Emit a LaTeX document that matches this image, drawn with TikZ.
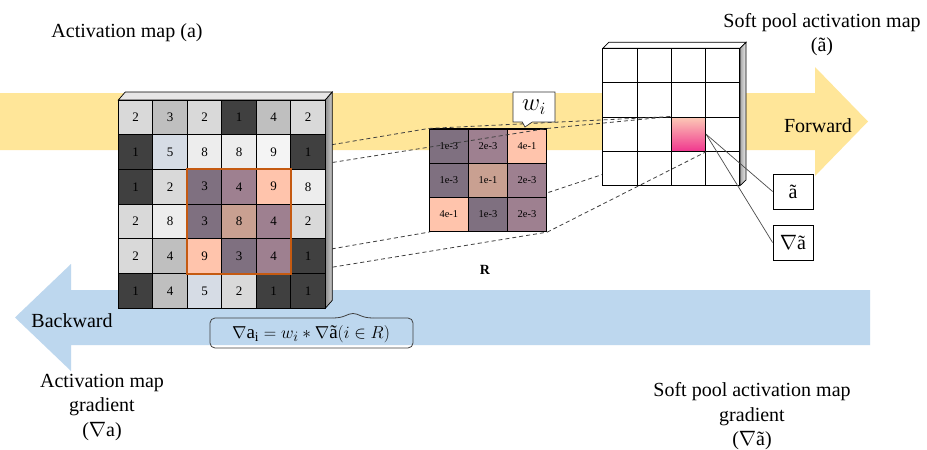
\documentclass[tikz,border=0pt]{standalone}
\usepackage{fontspec}
\setmainfont{Liberation Serif}
\newcommand{\snab}{$\nabla$}
\usetikzlibrary{shapes.callouts}
\pgfdeclarelayer{back}\pgfdeclarelayer{under}\pgfdeclarelayer{grids}\pgfdeclarelayer{lines}
\pgfsetlayers{back,under,grids,lines,main}
\definecolor{dk}{HTML}{404040}
\definecolor{lg}{HTML}{D9D9D9}
\definecolor{mg}{HTML}{BFBFBF}
\definecolor{vl}{HTML}{EDEDED}
\definecolor{wl}{HTML}{F4F4F4}
\definecolor{bl}{HTML}{D6DCE5}
\definecolor{pg}{HTML}{7F7080}
\definecolor{mv}{HTML}{9E8090}
\definecolor{tn}{HTML}{C9A091}
\definecolor{pc}{HTML}{FFC4AC}
\definecolor{fwd}{HTML}{FFE699}
\definecolor{bwd}{HTML}{BDD7EE}
\definecolor{org}{HTML}{C55A11}
\definecolor{pkt}{HTML}{FCCAB6}
\definecolor{pkb}{HTML}{F0368E}
\definecolor{topf}{HTML}{E7E6E6}
\tikzset{
 lbl/.style={font=\fontsize{20}{24.5}\selectfont, align=center, inner sep=0pt},
 acell/.style={draw=black, line width=0.8pt, minimum width=34.5pt, minimum height=34.7pt, inner sep=0pt, font=\fontsize{13}{13}\selectfont},
 rcell/.style={draw=black, line width=1.1pt, minimum width=39.1pt, minimum height=34.2pt, inner sep=0pt, font=\fontsize{10.5}{10.5}\selectfont},
 scell/.style={draw=black, line width=0.9pt, minimum width=34.3pt, minimum height=34.35pt, inner sep=0pt, fill=white},
 face/.style={draw=black, line width=0.7pt},
 proj/.style={draw=black!75, line width=0.8pt, dash pattern=on 4pt off 3pt},
 lead/.style={draw=black!70, line width=0.7pt},
 valbox/.style={draw=black, line width=0.8pt, fill=white, minimum width=40pt, minimum height=35pt, inner sep=0pt, font=\fontsize{20}{20}\selectfont},
 frame/.style={draw=black!75, line width=0.8pt},
}
\begin{document}
\begin{tikzpicture}[x=1pt,y=-1pt]
\useasboundingbox (0,0) rectangle (927,450);
\begin{pgfonlayer}{back}
\fill[white] (0,0) rectangle (927,450);
\fill[fwd] (0,93) -- (815,93) -- (815,67) -- (868,121.5) -- (815,176) -- (815,150) -- (0,150) -- cycle;
\fill[bwd] (870,290) -- (71,290) -- (71,264) -- (15,317.5) -- (71,371) -- (71,345) -- (870,345) -- cycle;
\end{pgfonlayer}

% left activation map
\fill[topf, face] (118.3,100) -- (125.3,92) -- (332.3,92) -- (325.3,100) -- cycle;
\shade[left color=black!45, right color=black!20, face] (325.3,100) -- (332.3,92) -- (332.3,300.3) -- (325.3,308.3) -- cycle;
\foreach \row [count=\r] in {{2/lg,3/mg,2/lg,1/dk,4/mg,2/lg},{1/dk,5/bl,8/vl,8/vl,9/wl,1/dk},{1/dk,2/lg,3/pg,4/mv,9/pc,8/vl},{2/lg,8/vl,3/pg,8/tn,4/mv,2/lg},{2/lg,4/mg,9/pc,3/pg,4/mv,1/dk},{1/dk,4/mg,5/bl,2/lg,1/dk,1/dk}}{
  \foreach \v/\c [count=\k] in \row {
    \node[acell, fill=\c] (a-\r-\k) at ({118.3+34.5*(\k-0.5)},{100+34.7*(\r-0.5)}) {\v};
  }
}
\draw[org, line width=1.6pt] (a-3-3.north west) rectangle (a-5-5.south east);

% R weights
\begin{pgfonlayer}{grids}
\foreach \row [count=\r] in {{1e-3/pg,2e-3/mv,4e-1/pc},{1e-3/pg,1e-1/tn,2e-3/mv},{4e-1/pc,1e-3/pg,2e-3/mv}}{
  \foreach \v/\c [count=\k] in \row {
    \node[rcell, fill=\c] (r-\r-\k) at ({429.3+39.1*(\k-0.5)},{129+34.2*(\r-0.5)}) {\v};
  }
}
% soft pool map
\fill[white, face] (602.7,48.3) -- (608.7,42.3) -- (746,42.3) -- (740,48.3) -- cycle;
\shade[left color=black!35, right color=black!8, face] (740,48.3) -- (746,42.3) -- (746,180) -- (740,185.7) -- cycle;
\foreach \r in {1,...,4}{
  \foreach \k in {1,...,4}{
    \node[scell] (s-\r-\k) at ({602.7+34.3*(\k-0.5)},{48.3+34.35*(\r-0.5)}) {};
  }
}
\node[draw=black, line width=0.9pt, minimum width=34.3pt, minimum height=34.35pt, inner sep=0pt, top color=pkt, bottom color=pkb] (p) at (s-3-3.center) {};
\end{pgfonlayer}

\node[font=\fontsize{14}{14}\selectfont\bfseries] (rl) at (485,270) {R};

% projection lines
\begin{pgfonlayer}{under}
\draw[proj] (r-3-1.south west) -- (p.south west);
\end{pgfonlayer}
\begin{pgfonlayer}{lines}
\draw[proj] (a-3-3.north west) -- (r-1-1.north west);
\draw[proj] (a-3-5.north east) -- (r-1-3.north east);
\draw[proj] (a-5-3.south west) -- (r-3-1.south west);
\draw[proj] (a-5-5.south east) -- (r-3-3.south east);
\draw[proj] (r-1-1.north west) -- (p.north west);
\draw[proj] (r-1-3.north east) -- (p.north west);
\draw[proj] (r-3-3.south east) -- (p.south east);
\end{pgfonlayer}

% w_i callout
\node[rectangle callout, draw=black!80, line width=0.7pt, fill=white, minimum width=42pt, minimum height=30pt, inner sep=0pt, callout absolute pointer={(525,127)}, callout pointer width=10pt, font=\fontsize{24}{24}\selectfont] (wb) at (534,107) {$w_i$};

% value boxes
\node[valbox] (at) at (793,191.5) {ã};
\node[valbox] (gat) at (793,242.5) {\snab ã};
\draw[lead] (p.east) -- (at.west);
\draw[lead] (p.east) -- (gat.west);

% formula
\node[font=\fontsize{19}{19}\selectfont, inner sep=0pt] (fm) at (311,334) {\snab a$_{\mathrm{i}} = w_i * {}$\snab ã$(i\in R)$};
\draw[frame, rounded corners=5pt] (333,318) -- (210,318) -- (210,348) -- (413,348) -- (413,318) -- (373,318);
\draw[frame] (333,318) .. controls (345,318) and (347,313.5) .. (353,313.5) .. controls (359,313.5) and (361,318) .. (373,318);

% labels
\node[lbl] (t1) at (127,33) {Activation map (a)};
\node[lbl] (t2) at (822,34.5) {Soft pool activation map\\(ã)};
\node[lbl] (fw) at (818,126) {Forward};
\node[lbl] (bw) at (72,321) {Backward};
\node[lbl] (t3) at (102,407.5) {Activation map\\gradient\\(\snab a)};
\node[lbl] (t4) at (752,416.5) {Soft pool activation map\\gradient\\(\snab ã)};
\end{tikzpicture}
\end{document}
